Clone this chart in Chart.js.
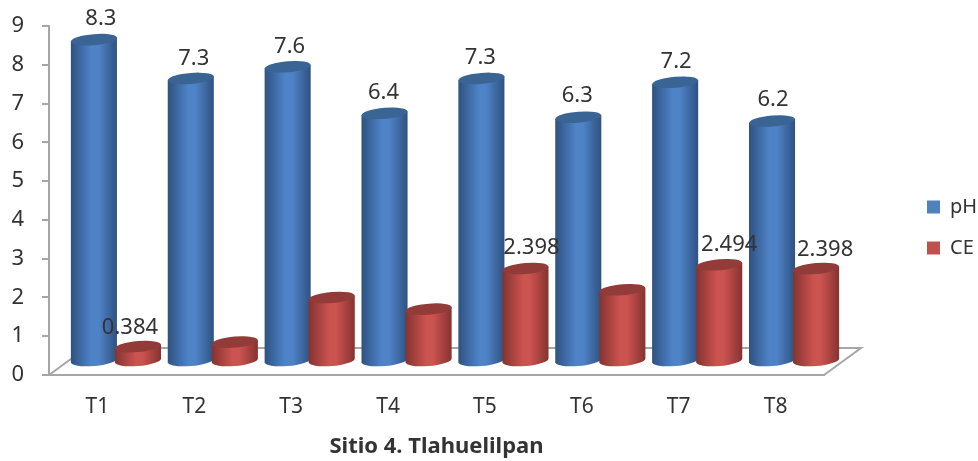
<!DOCTYPE html>
<html lang="es">
<head>
<meta charset="UTF-8">
<title>Sitio 4. Tlahuelilpan</title>
<script src="https://cdn.jsdelivr.net/npm/chart.js"></script>
<style>
    body { margin: 0; background: #fff; }
    canvas { display: block; }
</style>
</head>
<body>
<canvas id="chart" width="978" height="461"></canvas>
<script>
    const categories = ['T1', 'T2', 'T3', 'T4', 'T5', 'T6', 'T7', 'T8'];
    const phValues = [8.3, 7.3, 7.6, 6.4, 7.3, 6.3, 7.2, 6.2];
    const ceValues = [0.384, 0.5, 1.65, 1.35, 2.398, 1.85, 2.494, 2.398];
    const yTicks = [0, 1, 2, 3, 4, 5, 6, 7, 8, 9];

    const FONT = '"Noto Sans", sans-serif';
    const AXIS_GREY = '#a6a6a6';
    const TEXT = '#333333';

    // the floor recedes by this much, bars stand in the middle of it
    const DEPTH_X = 37, DEPTH_Y = 27;
    const ELLIPSE_RY = 5.5, TILT = 0.08;

    const palette = [
        { edge: '#2f5280', mid: '#4f83c8', top: '#3a6494' },
        { edge: '#853330', mid: '#cb5350', top: '#923b38' }
    ];

    // hand placed label offsets, some sit clear of the neighbouring bar
    const labelNudge = [
        [[7, -21], [3, -20], [2, -20], [-1, -21], [-1, -21], [-1, -21], [1, -21], [1, -21]],
        { 0: [-8, -19], 4: [6, -21], 6: [10, -20], 7: [9, -19] }
    ];

    const floorPlugin = {
        id: 'floor',
        beforeDatasetsDraw(chart) {
            const { ctx, scales: { x, y } } = chart;
            const y0 = y.getPixelForValue(0);
            ctx.save();
            ctx.strokeStyle = AXIS_GREY;
            ctx.lineWidth = 2;
            ctx.beginPath();
            ctx.moveTo(x.left, y0);
            ctx.lineTo(x.left + DEPTH_X, y0 - DEPTH_Y);
            ctx.lineTo(x.right + DEPTH_X, y0 - DEPTH_Y);
            ctx.lineTo(x.right, y0);
            ctx.stroke();
            ctx.restore();
        }
    };

    function drawCylinder(ctx, bar, colors) {
        const r = bar.width / 2 + 1;
        const h = bar.base - bar.y;
        ctx.save();
        // shear instead of rotate so the sides stay vertical
        ctx.transform(1, -TILT, 0, 1, bar.x + DEPTH_X / 2, bar.base - DEPTH_Y / 2);

        const grad = ctx.createLinearGradient(-r, 0, r, 0);
        grad.addColorStop(0, colors.edge);
        grad.addColorStop(0.45, colors.mid);
        grad.addColorStop(0.6, colors.mid);
        grad.addColorStop(1, colors.edge);

        ctx.fillStyle = grad;
        ctx.beginPath();
        ctx.moveTo(-r, -h);
        ctx.lineTo(-r, 0);
        ctx.ellipse(0, 0, r, ELLIPSE_RY, 0, Math.PI, 0, true);
        ctx.lineTo(r, -h);
        ctx.closePath();
        ctx.fill();

        ctx.fillStyle = colors.top;
        ctx.beginPath();
        ctx.ellipse(0, -h, r, ELLIPSE_RY, 0, 0, Math.PI * 2);
        ctx.fill();
        ctx.restore();
    }

    const cylinderPlugin = {
        id: 'cylinders',
        afterDatasetsDraw(chart) {
            const { ctx } = chart;
            chart.data.datasets.forEach((ds, i) => {
                chart.getDatasetMeta(i).data.forEach(bar => drawCylinder(ctx, bar, palette[i]));
            });

            ctx.save();
            ctx.font = '22px ' + FONT;
            ctx.fillStyle = TEXT;
            ctx.textAlign = 'center';
            ctx.textBaseline = 'middle';
            chart.data.datasets.forEach((ds, i) => {
                chart.getDatasetMeta(i).data.forEach((bar, j) => {
                    const nudge = labelNudge[i][j];
                    if (!nudge) return;
                    ctx.fillText(String(ds.data[j]), bar.x + DEPTH_X / 2 + nudge[0], bar.y - DEPTH_Y / 2 + nudge[1]);
                });
            });
            ctx.restore();
        }
    };

    // legend sits on its own, well right of the floor
    const legendPlugin = {
        id: 'legendPlace',
        afterLayout(chart) {
            const legend = chart.legend;
            legend.left = 906;
            legend.top = 176;
            legend.right = chart.width;
            legend.bottom = chart.height;
        }
    };

    new Chart(document.getElementById('chart'), {
        type: 'bar',
        data: {
            labels: categories,
            datasets: [
                { label: 'pH', data: phValues, backgroundColor: 'rgba(0,0,0,0)', legendColor: '#4f81bd' },
                { label: 'CE', data: ceValues, backgroundColor: 'rgba(0,0,0,0)', legendColor: '#c0504d' }
            ]
        },
        options: {
            responsive: false,
            animation: false,
            layout: { padding: { top: 26, right: 154, left: 0, bottom: 0 } },
            datasets: { bar: { categoryPercentage: 0.91, barPercentage: 1 } },
            scales: {
                x: {
                    afterFit(scale) {
                        scale.height = 86;
                        scale.paddingLeft = scale.paddingRight = 0;
                    },
                    grid: { display: false, drawTicks: false },
                    border: { display: true, color: AXIS_GREY, width: 2 },
                    ticks: { color: TEXT, padding: 19, font: { family: FONT, size: 21 }, maxRotation: 0 },
                    title: {
                        display: true,
                        text: 'Sitio 4. Tlahuelilpan',
                        color: TEXT,
                        font: { family: FONT, size: 22, weight: 'bold' },
                        padding: { top: 0, bottom: 1 }
                    }
                },
                y: {
                    min: 0,
                    max: 9,
                    // keep the tick label padding from pushing the plot down
                    afterFit(scale) {
                        scale.width = 49;
                        scale.paddingTop = scale.paddingBottom = 0;
                    },
                    afterBuildTicks(scale) { scale.ticks = yTicks.map(value => ({ value })); },
                    grid: { drawOnChartArea: false, color: AXIS_GREY, tickLength: 7, lineWidth: 2 },
                    border: { color: AXIS_GREY, width: 2 },
                    ticks: { color: TEXT, padding: 18, font: { family: FONT, size: 22 } }
                }
            },
            plugins: {
                tooltip: { enabled: false },
                title: { display: false },
                legend: {
                    position: 'chartArea',
                    align: 'start',
                    labels: {
                        boxWidth: 13,
                        boxHeight: 13,
                        padding: 21,
                        color: TEXT,
                        font: { family: FONT, size: 20 },
                        generateLabels(chart) {
                            return chart.data.datasets.map((ds, i) => ({
                                text: ds.label,
                                fillStyle: ds.legendColor,
                                strokeStyle: ds.legendColor,
                                lineWidth: 0,
                                fontColor: TEXT,
                                datasetIndex: i
                            }));
                        }
                    }
                }
            }
        },
        plugins: [floorPlugin, cylinderPlugin, legendPlugin]
    });
</script>
</body>
</html>
